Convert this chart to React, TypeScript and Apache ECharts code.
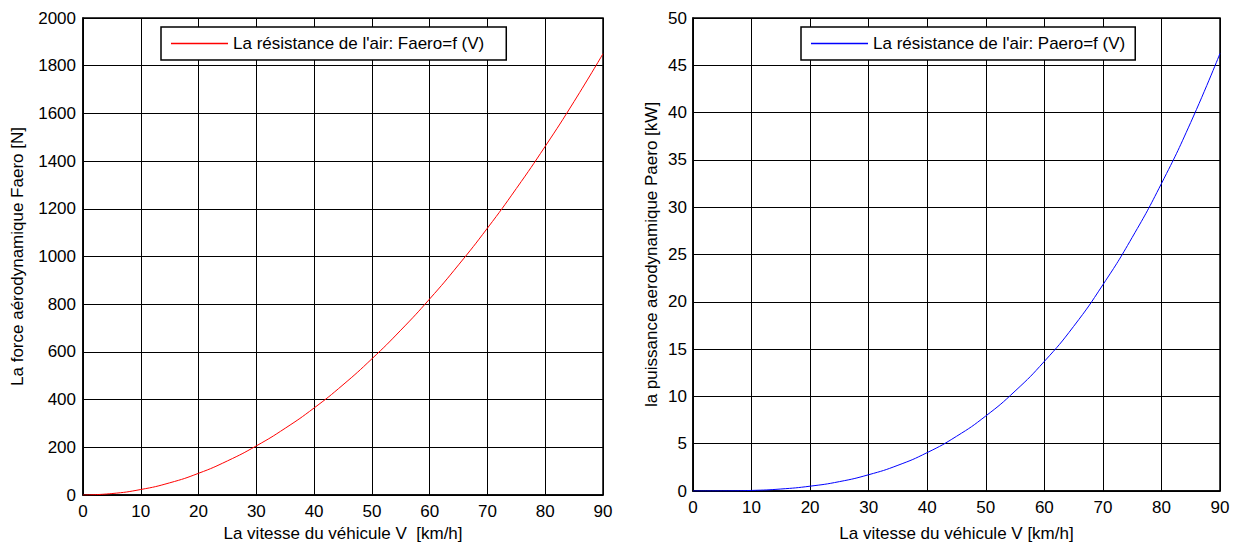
import React, { useEffect, useRef } from "react";
import * as echarts from "echarts";

const speeds = [0, 5, 10, 15, 20, 25, 30, 35, 40, 45, 50, 55, 60, 65, 70, 75, 80, 85, 90];
const forceN = [0, 6, 23, 51, 91, 143, 206, 280, 365, 462, 571, 691, 822, 965, 1119, 1285, 1462, 1650, 1850];
const powerKW = [0, 0.01, 0.06, 0.21, 0.51, 0.99, 1.72, 2.72, 4.06, 5.78, 7.93, 10.56, 13.7, 17.4, 21.8, 26.8, 32.5, 38.96, 46.25];

const leftLegend = "La résistance de l'air: Faero=f (V)";
const rightLegend = "La résistance de l'air: Paero=f (V)";
const leftXName = "La vitesse du véhicule V  [km/h]";
const rightXName = "La vitesse du véhicule V [km/h]";
const leftYName = "La force aérodynamique Faero [N]";
const rightYName = "la puissance aerodynamique Paero [kW]";

const FONT = "Liberation Sans, Arial, sans-serif";
const FS = 17;

export default function App() {
  const ref = useRef<HTMLDivElement>(null);
  useEffect(() => {
    if (!ref.current) return;
    const chart = echarts.init(ref.current, undefined, { renderer: "svg" });
    const axisCommon = {
      axisLine: { show: true, lineStyle: { color: "#000", width: 1.5 } },
      axisTick: { show: false },
      splitLine: { show: true, lineStyle: { color: "#000", width: 1 } },
      axisLabel: { color: "#000", fontSize: FS, fontFamily: FONT, formatter: (v: number) => String(v) },
      nameTextStyle: { color: "#000", fontSize: FS, fontFamily: FONT },
    };
    const legendCommon = {
      orient: "horizontal",
      borderColor: "#000",
      borderWidth: 1.5,
      backgroundColor: "#fff",
      itemWidth: 57,
      itemHeight: 1.5,
      icon: "rect",
      itemGap: 6,
      textStyle: { color: "#000", fontSize: FS, fontFamily: FONT },
    };
    chart.setOption({
      animation: false,
      backgroundColor: "#fff",
      grid: [
        { left: 83, top: 18, width: 520, height: 479, show: true, borderColor: "#000", borderWidth: 1.5, containLabel: false },
        { left: 693, top: 18, width: 527, height: 480, show: true, borderColor: "#000", borderWidth: 1.5, containLabel: false },
      ],
      legend: [
        { ...legendCommon, data: [leftLegend], left: 161, top: 27, padding: [8, 22, 8, 10] },
        { ...legendCommon, data: [rightLegend], left: 801, top: 27, padding: [8, 10, 8, 10] },
      ],
      xAxis: [
        { ...axisCommon, type: "value", gridIndex: 0, min: 0, max: 90, interval: 10, name: leftXName, nameLocation: "middle", nameGap: 30, axisLabel: { ...axisCommon.axisLabel, margin: 8 } },
        { ...axisCommon, type: "value", gridIndex: 1, min: 0, max: 90, interval: 10, name: rightXName, nameLocation: "middle", nameGap: 34, axisLabel: { ...axisCommon.axisLabel, margin: 8 } },
      ],
      yAxis: [
        { ...axisCommon, type: "value", gridIndex: 0, min: 0, max: 2000, interval: 200, name: leftYName, nameLocation: "middle", nameGap: 57, axisLabel: { ...axisCommon.axisLabel, margin: 7 } },
        { ...axisCommon, type: "value", gridIndex: 1, min: 0, max: 50, interval: 5, name: rightYName, nameLocation: "middle", nameGap: 33, axisLabel: { ...axisCommon.axisLabel, margin: 6 } },
      ],
      series: [
        {
          name: leftLegend, type: "line", xAxisIndex: 0, yAxisIndex: 0, showSymbol: false, smooth: true,
          data: speeds.map((v, i) => [v, forceN[i]]), color: "#ff0000", lineStyle: { color: "#ff0000", width: 1 },
          itemStyle: { color: "#ff0000" },
        },
        {
          name: rightLegend, type: "line", xAxisIndex: 1, yAxisIndex: 1, showSymbol: false, smooth: true,
          data: speeds.map((v, i) => [v, powerKW[i]]), color: "#0000ff", lineStyle: { color: "#0000ff", width: 1 },
          itemStyle: { color: "#0000ff" },
        },
      ],
    });
    return () => chart.dispose();
  }, []);
  return <div ref={ref} style={{ position: "fixed", left: 0, top: 0, width: 1239, height: 547 }} />;
}
